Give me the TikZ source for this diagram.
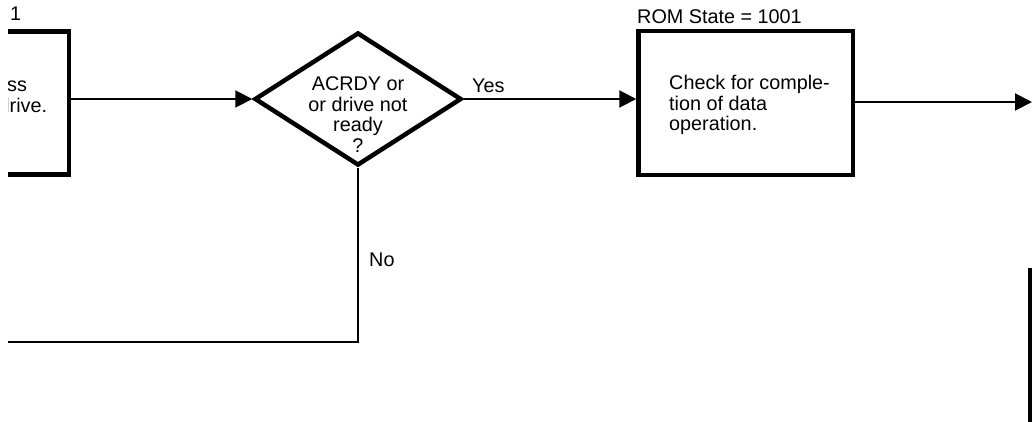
\documentclass[tikz,border=0pt]{standalone}
\usepackage{fontspec}
\setmainfont{Liberation Sans}
\usetikzlibrary{arrows.meta,shapes.geometric}
\begin{document}
\begin{tikzpicture}[x=1pt,y=-1pt,
  box/.style={draw, line width=4.5pt, inner sep=0pt},
  flow/.style={line width=2pt},
  arr/.style={-{Triangle[length=17pt,width=17pt]}},
  txt/.style={font=\fontsize{19.8}{20.5}\selectfont, inner sep=0pt},
]
\useasboundingbox (0,0) rectangle (1032,421);
\clip (8,0) rectangle (1032,421);
% boxes
\node[box, minimum width=150pt, minimum height=143pt, anchor=north east] (prev) at (71,29) {};
\node[diamond, draw, line width=4.5pt, minimum width=207pt, minimum height=133pt, inner sep=0pt] (dec) at (358,99) {};
\node[box, minimum width=214.5pt, minimum height=144pt] (chk) at (745.75,103) {};
\node[box, minimum width=100pt, minimum height=200pt, anchor=north west] (next) at (1028,268) {};
% texts
\node[txt, anchor=base west] (one) at (10,20) {1};
\node[txt, anchor=base west] (prevA) at (7,91) {ss};
\node[txt, anchor=base west] (prevB) at (-1.5,112) {drive.};
\node[txt, align=center] (dectxt) at (358,114.5) {ACRDY or\\or drive not\\ready\\?};
\node[txt, align=left, anchor=north west] (chktxt) at (669,75) {Check for comple-\\tion of data\\operation.};
\node[txt, anchor=base west] (rom) at (637,23) {ROM State = 1001};
\node[txt, anchor=base west] (yes) at (472,92) {Yes};
\node[txt, anchor=base west] (no) at (369,266) {No};
% coordinates
\coordinate (out) at (1032,102);
\coordinate (back) at (0,342);
% connectors
\draw[flow, arr] (dec.west -| prev.east) -- (dec.west);
\draw[flow, arr] (dec.east) -- (dec.east -| chk.west);
\draw[flow, arr] (chk.east |- out) -- (out);
\draw[flow] (dec.south) -- (dec.south |- back) -- (back);
\end{tikzpicture}
\end{document}
